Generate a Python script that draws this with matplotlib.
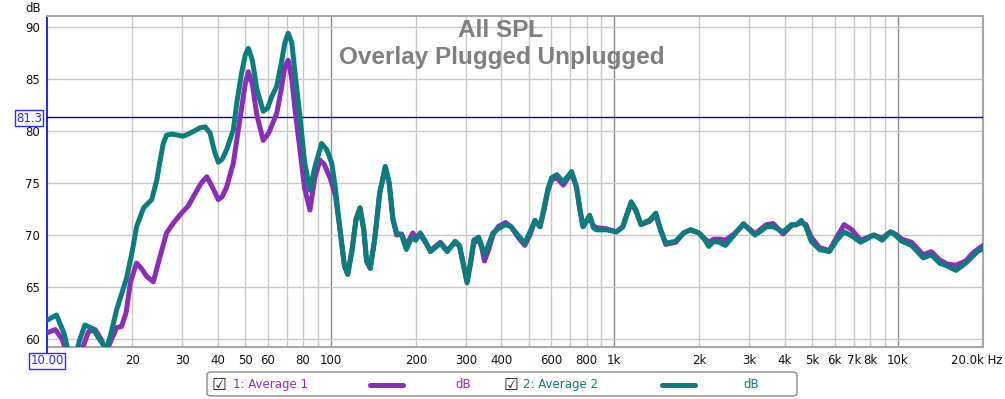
import matplotlib
matplotlib.use("Agg")
import matplotlib.pyplot as plt
from matplotlib.ticker import FixedLocator, FixedFormatter, NullLocator
from matplotlib.patches import FancyBboxPatch
from matplotlib.lines import Line2D

# ---------------- data ----------------
freq_avg2 = [10, 10.8, 11.5, 12.0, 12.5, 13.0, 13.6, 14.5, 15.3, 16.2, 16.8, 17.6, 18.4, 19.1, 20.0,
             20.7, 21.9, 23.4, 24.4, 25.0, 25.7, 26.4, 27.5, 29.0, 30.2, 31.5, 33, 34.6, 36.1, 37.6,
             39.0, 40.2, 41.5, 43.0, 45.4, 46.7, 48.5, 50.0, 51.3, 53, 55, 57.9, 60, 62, 64.6, 67,
             69, 70.9, 73, 75, 78.2, 81, 84.6, 88, 93.0, 97, 101, 104, 108, 112, 115, 119, 123, 127,
             131, 134, 138, 143, 149, 156, 161, 166, 171, 178, 185, 193, 200, 207, 215, 225, 244,
             258, 275, 285, 295, 303, 312, 320, 333, 341, 349, 360, 374, 390, 414, 433, 458, 484,
             505, 526, 548, 565, 585, 602, 628, 662, 708, 737, 757, 777, 800, 820, 845, 866, 939,
             1018, 1074, 1110, 1149, 1190, 1245, 1300, 1331, 1403, 1460, 1522, 1649, 1760, 1860,
             1990, 2080, 2158, 2248, 2350, 2470, 2650, 2860, 3000, 3142, 3300, 3450, 3640, 3946,
             4219, 4400, 4572, 4750, 4954, 5299, 5743, 6100, 6478, 6900, 7404, 8247, 8815, 9424,
             9800, 10340, 11200, 12300, 13150, 14060, 15000, 16060, 17400, 18300, 19100, 20000]
spl_avg2 = [61.8, 62.3, 60.5, 58.3, 57.8, 59.8, 61.35, 61.0, 60.0, 59.0, 60.5, 62.8, 64.5, 65.9, 68.5,
            70.8, 72.6, 73.4, 75.3, 77.0, 78.8, 79.6, 79.7, 79.6, 79.5, 79.7, 80.0, 80.3, 80.4, 79.8,
            78.0, 77.0, 77.3, 78.2, 80.1, 82.7, 85.5, 87.3, 87.95, 86.8, 84.0, 81.9, 82.2, 83.3, 84.3, 86.5,
            88.5, 89.4, 88.5, 85.5, 81.1, 77.0, 74.3, 76.5, 78.8, 78.2, 76.9, 74.5, 70.5, 67.0, 66.2, 68.5, 71.5, 72.6,
            70.5, 67.5, 66.8, 69.5, 74.0, 76.6, 75.0, 71.5, 70.2, 70.0, 68.6, 69.7, 69.5, 70.2, 69.5, 68.4, 69.2,
            68.4, 69.4, 69.0, 67.0, 65.4, 67.5, 69.5, 69.8, 69.0, 68.1, 69.0, 70.2, 70.6, 71.0, 70.8, 70.0, 69.2,
            70.3, 71.4, 70.8, 72.5, 74.5, 75.5, 75.8, 75.1, 76.1, 74.6, 72.5, 70.8, 71.4, 71.9, 70.7, 70.5, 70.5,
            70.3, 70.8, 72.0, 73.2, 72.5, 71.0, 71.3, 71.4, 72.1, 70.5, 69.2, 69.4, 70.2, 70.5,
            70.2, 69.6, 68.9, 69.4, 69.3, 69.0, 70.0, 71.1, 70.5, 70.0, 70.4, 70.8, 70.8, 70.3,
            71.0, 71.0, 71.4, 70.8, 69.4, 68.6, 68.4, 69.5, 70.3, 69.9, 69.3, 70.0, 69.5, 70.3,
            70.0, 69.4, 69.0, 67.8, 68.1, 67.3, 67.0, 66.6, 67.3, 67.9, 68.4, 68.7]

freq_avg1 = [10, 10.7, 11.3, 11.8, 12.5, 13.3, 14.0, 14.8, 15.5, 16.2, 16.9, 17.6, 18.3, 19.0, 19.7,
             20.7, 21.5, 22.5, 23.7, 24.8, 26.4, 28.0, 29.8, 31.5, 33, 35, 36.6, 38, 40.2, 41.5,
             43.0, 45.4, 47.9, 50, 51.3, 53, 55, 57.9, 60.5, 64.6, 67, 69, 70.9, 73, 75, 78.2, 81,
             84.6, 88, 91.8, 95, 99.6, 104, 108, 112, 115, 119, 123, 127, 131, 134, 138, 143, 149,
             156, 161, 166, 171, 178, 185, 195, 200, 207, 215, 225, 244, 258, 275, 285, 295, 303,
             312, 320, 333, 341, 349, 360, 374, 390, 414, 433, 458, 484, 505, 526, 548, 565, 585,
             602, 628, 662, 708, 737, 757, 777, 800, 820, 845, 866, 939, 1018, 1074, 1110, 1149,
             1190, 1245, 1300, 1331, 1403, 1460, 1522, 1649, 1760, 1860, 1990, 2080, 2158, 2248,
             2350, 2470, 2650, 2860, 3000, 3142, 3300, 3450, 3640, 3946, 4219, 4400, 4572, 4750,
             4954, 5299, 5743, 6100, 6478, 6900, 7404, 8247, 8815, 9424, 9800, 10340, 11200, 12300,
             13150, 14060, 15000, 16060, 17400, 18300, 19100, 20000]
spl_avg1 = [60.6, 60.9, 60.0, 58.5, 57.5, 59.0, 60.7, 60.9, 60.0, 58.8, 60.0, 61.1, 61.2, 62.5, 65.5,
            67.3, 66.8, 66.0, 65.5, 67.5, 70.2, 71.2, 72.1, 72.8, 73.8, 75.0, 75.6, 74.8, 73.4, 73.7,
            74.6, 76.9, 81.1, 84.5, 85.7, 84.5, 81.5, 79.1, 79.8, 81.7, 84.0, 86.2, 86.8, 85.0, 82.0, 77.9, 74.5,
            72.4, 75.5, 77.2, 76.8, 75.5, 73.8, 70.5, 67.0, 66.3, 68.5, 71.5, 72.6, 70.5, 67.5, 66.8, 69.5, 74.0,
            76.5, 75.0, 71.5, 70.0, 70.1, 69.0, 70.2, 69.8, 70.0, 69.4, 68.5, 69.3,
            68.5, 69.3, 68.9, 67.0, 65.5, 67.3, 69.2, 69.6, 68.8, 67.5, 68.5, 70.0, 70.8, 71.2, 70.8, 69.8, 69.0,
            70.0, 71.4, 70.8, 72.3, 74.3, 75.3, 75.5, 74.8, 76.0, 74.6, 72.5, 70.8, 71.3, 71.7, 70.9, 70.7, 70.6,
            70.3, 70.8, 72.0, 73.0, 72.4, 71.0, 71.2, 71.3, 71.9, 70.4, 69.1, 69.3, 70.2, 70.5,
            70.2, 69.7, 69.3, 69.6, 69.6, 69.5, 70.1, 71.0, 70.6, 70.1, 70.6, 71.0, 71.1, 70.1,
            70.9, 71.0, 71.2, 71.0, 69.8, 68.8, 68.5, 69.8, 71.0, 70.5, 69.5, 70.0, 69.7, 70.3,
            70.1, 69.6, 69.3, 68.1, 68.4, 67.6, 67.2, 67.1, 67.5, 68.2, 68.6, 69.0]

series_names = ["1: Average 1", "2: Average 2"]
series_colors = ["#8B2DB8", "#0B7D7D"]
x_grid = [20, 30, 40, 50, 60, 70, 80, 90, 100, 200, 300, 400, 500, 600, 700, 800, 900,
          1000, 2000, 3000, 4000, 5000, 6000, 7000, 8000, 9000, 10000, 20000]
x_labels = ["20", "30", "40", "50", "60", "", "80", "", "100", "200", "300", "400", "", "600", "",
            "800", "", "1k", "2k", "3k", "4k", "5k", "6k", "7k", "8k", "", "10k", ""]
last_label = "20.0k Hz"
decades = [100, 1000, 10000]
y_ticks = [60, 65, 70, 75, 80, 85, 90]
cursor_db = 81.3
cursor_hz_label = "10.00"
title_lines = ["All SPL", "Overlay Plugged Unplugged"]

# ---------------- figure ----------------
W, H = 1005, 399
fig = plt.figure(figsize=(W / 100, H / 100), dpi=100)
fig.patch.set_facecolor("white")

def fx(x):
    return x / W

def fy(y):
    return 1 - y / H

L, R, T, B = 47, 983, 16, 347
ax = fig.add_axes([fx(L), fy(B), (R - L) / W, (B - T) / H])
ax.set_xscale("log")
ax.set_xlim(10, 20000)
ax.set_ylim(59.23, 91.06)

ax.xaxis.set_major_locator(FixedLocator(x_grid))
ax.xaxis.set_major_formatter(FixedFormatter(x_labels))
ax.xaxis.set_minor_locator(NullLocator())
ax.set_yticks(y_ticks)
ax.yaxis.set_minor_locator(NullLocator())
ax.tick_params(axis="both", length=0, labelsize=8.5, colors="#111111")
ax.tick_params(axis="x", pad=5)
ax.tick_params(axis="y", pad=5)

ax.grid(True, color="#c8c8c8", linewidth=1.0)
ax.set_axisbelow(True)
for gl, f in zip(ax.get_xgridlines(), x_grid):
    if f in decades:
        gl.set_color("#8c8c8c")

for sp in ["top", "right", "bottom"]:
    ax.spines[sp].set_color("#a8a8a8")
    ax.spines[sp].set_linewidth(1.5)
ax.spines["left"].set_color("#0000ee")
ax.spines["left"].set_linewidth(1.2)

ax.axhline(cursor_db, color="#0000cc", linewidth=1.0, zorder=3)

# last x label with unit
fig.text(fx(1003), fy(361), last_label, ha="right", va="center", fontsize=8.5, color="#111111")

# title text
fig.text(fx(501), fy(37), title_lines[0], ha="center", va="baseline",
         fontsize=17.5, fontweight="bold", color="#7f7f7f", family="Liberation Sans", zorder=2)
fig.text(fx(502), fy(64), title_lines[1], ha="center", va="baseline",
         fontsize=17.5, fontweight="bold", color="#7f7f7f", family="Liberation Sans", zorder=2)

ax.plot(freq_avg1, spl_avg1, color=series_colors[0], linewidth=3.6,
        solid_joinstyle="round", solid_capstyle="round", zorder=4)
ax.plot(freq_avg2, spl_avg2, color=series_colors[1], linewidth=3.6,
        solid_joinstyle="round", solid_capstyle="round", zorder=5)

# axis unit label
fig.text(fx(33), fy(8), "dB", ha="center", va="center", fontsize=8.5, color="#111111")

# cursor boxes
fig.text(fx(29), fy(118), f"{cursor_db:.1f}", ha="center", va="center", fontsize=8.5,
         color="#2a2aff",
         bbox=dict(boxstyle="square,pad=0.12", fc="white", ec="#2a2aff", lw=1.0))
fig.add_artist(Line2D([fx(L), fx(L)], [fy(B), fy(353)], color="#0000ee", lw=1.2,
                      transform=fig.transFigure))
fig.text(fx(47), fy(361), cursor_hz_label, ha="center", va="center", fontsize=8.5,
         color="#2a2aff",
         bbox=dict(boxstyle="square,pad=0.12", fc="white", ec="#2a2aff", lw=1.0))

# legend box
leg = FancyBboxPatch((fx(207), fy(396)), fx(797) - fx(207), fy(372) - fy(396),
                     boxstyle="round,pad=0,rounding_size=0.006",
                     transform=fig.transFigure, fc="white", ec="#8a8a8a", lw=1.0)
fig.add_artist(leg)
ly = fy(384.5)
items = [
    (219, 233, 370, 403, 463),
    (511, 523, 662, 695, 751),
]
for (cbx, tx, l0, l1, dbx), name, col in zip(items, series_names, series_colors):
    fig.text(fx(cbx), ly, "\u2611", ha="center", va="center", fontsize=12, color="#222222")
    fig.text(fx(tx), ly, name, ha="left", va="center", fontsize=8.5, color=col)
    fig.add_artist(Line2D([fx(l0), fx(l1)], [ly, ly], color=col, lw=3.6,
                          solid_capstyle="round", transform=fig.transFigure))
    fig.text(fx(dbx), ly, "dB", ha="center", va="center", fontsize=8.5, color=col)

fig.savefig("out.png", dpi=100)
